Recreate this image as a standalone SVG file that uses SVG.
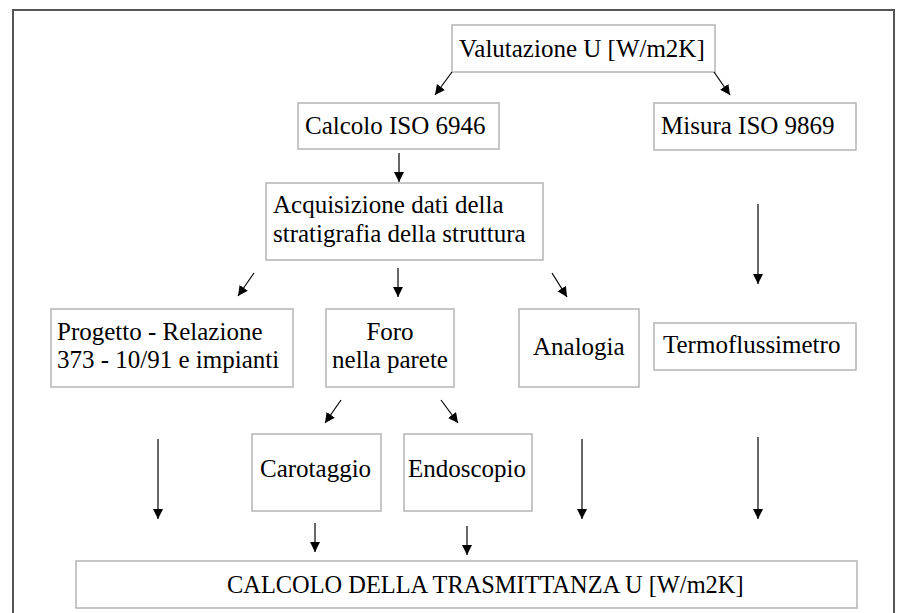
<svg xmlns="http://www.w3.org/2000/svg" width="899" height="613" viewBox="0 0 899 613">
<style>
.box{fill:#ffffff;stroke:#b4b4b4;stroke-width:1.5}
.t{font-family:"Liberation Serif","Times New Roman",serif;font-size:25px;fill:#000000}
.c{text-anchor:middle}
.conn line{stroke:#000000;stroke-width:1.2;marker-end:url(#ah)}
</style>
<defs>
<marker id="ah" markerUnits="userSpaceOnUse" markerWidth="12" markerHeight="11" refX="10" refY="5" orient="auto">
<path d="M0,0 L10,5 L0,10 Z" fill="#000000"/>
</marker>
</defs>
<rect x="0" y="0" width="899" height="613" fill="#ffffff"/>
<path d="M13,613 L13,10 L894,10 L894,613" fill="none" stroke="#555555" stroke-width="2"/>
<g id="valutazione"><rect class="box" x="452" y="25" width="263" height="47"/><text class="t" x="459" y="57">Valutazione U [W/m2K]</text></g>
<g id="calcolo"><rect class="box" x="298" y="103" width="201" height="46"/><text class="t" x="305" y="134">Calcolo ISO 6946</text></g>
<g id="misura"><rect class="box" x="654" y="103" width="202" height="47"/><text class="t" x="661" y="134">Misura ISO 9869</text></g>
<g id="acquisizione"><rect class="box" x="266" y="183" width="277" height="77"/><text class="t" x="273" y="213">Acquisizione dati della</text><text class="t" x="273" y="242">stratigrafia della struttura</text></g>
<g id="progetto"><rect class="box" x="51" y="309" width="242" height="78"/><text class="t" x="57" y="340">Progetto - Relazione</text><text class="t" x="57" y="368">373 - 10/91 e impianti</text></g>
<g id="foro"><rect class="box" x="326" y="309" width="128" height="78"/><text class="t c" x="390" y="340">Foro</text><text class="t c" x="390" y="368">nella parete</text></g>
<g id="analogia"><rect class="box" x="519" y="309" width="120" height="78"/><text class="t" x="533" y="355">Analogia</text></g>
<g id="termoflussimetro"><rect class="box" x="654" y="323" width="202" height="47"/><text class="t" x="663" y="353">Termoflussimetro</text></g>
<g id="carotaggio"><rect class="box" x="252" y="434" width="129" height="77"/><text class="t" x="260" y="477">Carotaggio</text></g>
<g id="endoscopio"><rect class="box" x="404" y="434" width="128" height="77"/><text class="t" x="408" y="477">Endoscopio</text></g>
<g id="trasmittanza"><rect class="box" x="76" y="561" width="781" height="47"/><text class="t" x="227" y="593" style="font-size:24.4px">CALCOLO DELLA TRASMITTANZA U [W/m2K]</text></g>
<g id="connectors" class="conn">
<line x1="452" y1="72" x2="435" y2="95"/>
<line x1="714" y1="72" x2="730" y2="95"/>
<line x1="399" y1="153" x2="399" y2="182"/>
<line x1="254" y1="273" x2="238" y2="296"/>
<line x1="398" y1="268" x2="398" y2="297"/>
<line x1="552" y1="273" x2="567" y2="297"/>
<line x1="758" y1="204" x2="758" y2="284"/>
<line x1="341" y1="400" x2="325" y2="423"/>
<line x1="441" y1="400" x2="458" y2="423"/>
<line x1="158" y1="439" x2="158" y2="519"/>
<line x1="582" y1="439" x2="582" y2="519"/>
<line x1="758" y1="437" x2="758" y2="519"/>
<line x1="315" y1="523" x2="315" y2="552"/>
<line x1="467" y1="526" x2="467" y2="555"/>
</g>
</svg>
